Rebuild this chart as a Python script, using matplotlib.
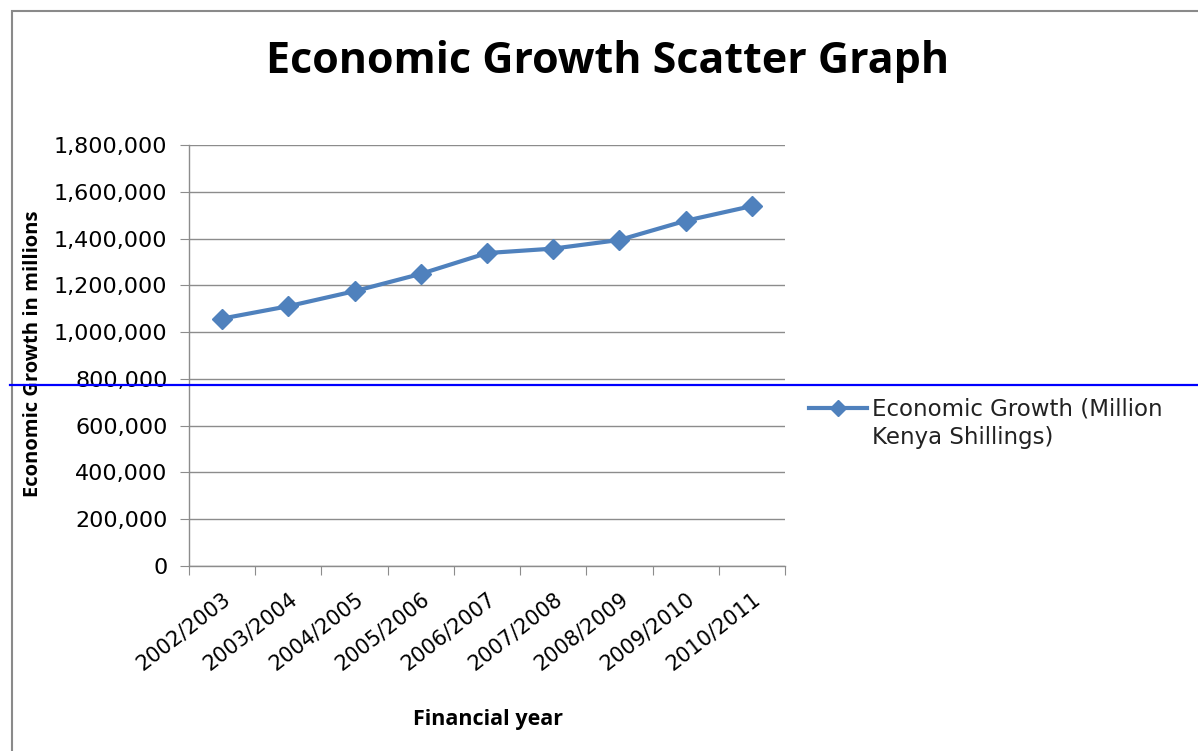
import matplotlib
matplotlib.use("Agg")
import matplotlib.pyplot as plt
from matplotlib.lines import Line2D
from matplotlib.patches import Rectangle
from matplotlib.transforms import ScaledTranslation
from matplotlib.ticker import FuncFormatter, FixedLocator, NullFormatter

years = ["2002/2003", "2003/2004", "2004/2005", "2005/2006", "2006/2007",
         "2007/2008", "2008/2009", "2009/2010", "2010/2011"]
growth = [1057800, 1110800, 1175000, 1249000, 1338000, 1357000, 1394000, 1476000, 1539000]
yticks = [0, 200000, 400000, 600000, 800000, 1000000, 1200000, 1400000, 1600000, 1800000]

TFONT = "Open Sans"
TICKFONT = "DejaVu Sans"
W, H = 1198, 751
fig = plt.figure(figsize=(W / 100, H / 100), dpi=100)

def fx(px):
    return px / W

def fy(py):
    return 1 - py / H

ax = fig.add_axes([fx(189), fy(566), fx(785) - fx(189), fy(145) - fy(566)])
blue = "#4F81BD"
x = list(range(len(years)))
ax.plot(x, growth, color=blue, lw=3.0, marker="D", ms=10, mfc=blue, mec=blue,
        solid_joinstyle="round", zorder=3)
ax.set_xlim(-0.5, len(years) - 0.5)
ax.set_ylim(0, 1800000)
ax.set_yticks(yticks)
ax.yaxis.set_major_formatter(FuncFormatter(lambda v, p: f"{int(v):,}"))
ax.grid(axis="y", color="#8c8c8c", lw=1)
ax.set_axisbelow(True)
for s in ["top", "right"]:
    ax.spines[s].set_visible(False)
for s in ["left", "bottom"]:
    ax.spines[s].set_color("#8c8c8c")
    ax.spines[s].set_linewidth(1)
ax.xaxis.set_major_locator(FixedLocator([i - 0.5 for i in range(len(years) + 1)]))
ax.xaxis.set_major_formatter(NullFormatter())
ax.set_xticks(x, minor=True)
ax.set_xticklabels(years, minor=True, rotation=38, ha="right", va="top",
                   rotation_mode="anchor", fontsize=15, family=TICKFONT)
off = ScaledTranslation(6 / 100, 0, fig.dpi_scale_trans)
for lab in ax.xaxis.get_minorticklabels():
    lab.set_transform(lab.get_transform() + off)
ax.tick_params(axis="x", which="major", length=6.5, color="#8c8c8c", direction="out")
ax.tick_params(axis="x", which="minor", length=0, pad=16)
ax.tick_params(axis="y", length=6.5, color="#8c8c8c", direction="out", labelsize=16, pad=9)
for lab in ax.get_yticklabels():
    lab.set_family(TICKFONT)

fig.text(fx(608), fy(73), "Economic Growth Scatter Graph", ha="center", va="baseline",
         fontsize=31, fontweight="bold", family=TFONT)
fig.text(fx(33), fy(354), "Economic Growth in millions", rotation=90, ha="center",
         va="center", fontsize=14.5, fontweight="bold", family=TFONT)
fig.text(fx(488), fy(725), "Financial year", ha="center", va="baseline",
         fontsize=15.5, fontweight="bold", family=TFONT)

# legend
fig.add_artist(Line2D([fx(809), fx(867)], [fy(408), fy(408)], color=blue, lw=3.0,
                      transform=fig.transFigure))
fig.add_artist(Line2D([fx(838)], [fy(408)], color=blue, marker="D", ms=8,
                      transform=fig.transFigure))
fig.text(fx(872), fy(415), "Economic Growth (Million", ha="left", va="baseline",
         fontsize=16.5, family=TICKFONT, color="#222222")
fig.text(fx(872), fy(444), "Kenya Shillings)", ha="left", va="baseline",
         fontsize=16.5, family=TICKFONT, color="#222222")

# outer frame
fig.add_artist(Rectangle((fx(12), fy(H + 10)), fx(W + 20) - fx(12), fy(11) - fy(H + 10),
                         fill=False, edgecolor="#8a8a8a", lw=1.5, transform=fig.transFigure))
# blue horizontal line
fig.add_artist(Line2D([fx(10), fx(W)], [fy(384.5), fy(384.5)], color="#0000FF", lw=1.6,
                      transform=fig.transFigure, zorder=10))

fig.savefig("out.png", dpi=100)
